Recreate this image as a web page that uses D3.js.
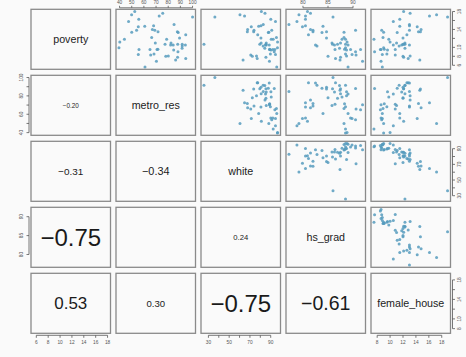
<!DOCTYPE html>
<html><head><meta charset="utf-8">
<script src="https://cdn.jsdelivr.net/npm/d3@7"></script>
<style>body{margin:0;background:#fafafa}svg{display:block}</style>
</head><body>
<script>
const states = ["AL","AK","AZ","AR","CA","CO","CT","DE","DC","FL","GA","HI","ID","IL","IN","IA","KS","KY","LA","ME","MD","MA","MI","MN","MS","MO","MT","NE","NV","NH","NJ","NM","NY","NC","ND","OH","OK","OR","PA","RI","SC","SD","TN","TX","UT","VT","VA","WA","WV","WI","WY"];
const poverty = [14.6,8.3,13.3,18.0,12.8,9.4,7.8,8.1,16.8,12.1,13.5,10.7,12.2,10.7,9.5,8.4,9.6,16.3,17.0,11.2,7.2,9.8,11.0,6.9,17.3,11.0,13.8,9.5,10.3,5.6,7.5,17.6,13.5,13.8,11.8,10.7,14.7,11.8,10.5,10.5,14.0,13.4,14.8,15.1,9.0,9.9,8.0,10.5,15.8,8.5,9.5];
const metro_res = [55.4,65.6,88.2,52.5,94.4,84.5,87.7,80.1,100.0,89.3,71.6,91.5,66.4,87.8,70.8,55.4,71.5,55.8,72.6,40.2,86.1,91.4,82.3,70.3,49.9,69.4,54.0,56.0,91.5,60.9,94.4,75.5,87.5,69.0,44.0,77.4,60.7,78.7,84.1,94.1,67.0,50.0,68.0,84.8,88.0,39.5,78.0,82.0,47.4,68.3,65.0];
const white = [71.3,70.8,87.7,81.0,77.5,90.2,85.4,76.3,36.2,80.6,67.5,25.7,95.5,79.5,88.9,94.6,89.0,90.1,64.8,96.6,63.4,84.3,80.8,88.8,60.4,85.7,91.0,92.1,82.7,95.8,77.0,84.5,73.6,73.9,92.4,85.4,78.4,90.5,85.7,88.6,67.8,88.2,80.6,82.8,93.4,96.5,72.3,85.0,94.6,89.7,94.0];
const hs_grad = [79.9,90.6,83.8,80.9,81.1,88.7,87.5,88.7,86.0,84.7,82.0,88.5,88.2,85.9,86.4,89.8,88.3,80.5,80.5,88.8,87.4,87.3,87.5,91.9,79.2,85.8,90.5,89.5,82.8,89.0,86.5,81.5,84.7,82.0,88.5,86.9,84.0,87.8,86.3,82.5,81.5,88.2,80.5,77.2,90.5,88.5,85.0,89.0,78.8,88.5,91.5];
const female_house = [14.2,10.8,11.1,12.1,12.6,9.6,12.1,13.1,18.9,12.0,14.4,12.3,8.9,12.1,10.8,8.8,9.1,11.5,16.1,10.0,14.6,12.3,12.3,8.6,17.2,11.0,8.7,8.6,11.4,8.8,12.8,13.1,14.7,13.0,7.5,12.0,11.5,9.8,11.8,13.0,14.8,9.0,13.0,13.0,7.6,9.0,12.0,10.5,10.5,9.5,8.5];

const varNames = ["poverty","metro_res","white","hs_grad","female_house"];
const povertyTicks = [6,8,10,12,14,16,18];
const metroTicks = [40,50,60,70,80,90,100];
const whiteTicks = [30,40,50,60,70,80,90];
const hsTicks = [80,85,90];
const femaleTicks = [8,10,12,14,16,18];
// labels actually printed on the horizontal / vertical axes
const povertyLabelsH = [6,8,10,12,14,16,18], povertyLabelsV = [6,8,10,14,18];
const metroLabelsH = [40,50,60,70,80,90,100], metroLabelsV = [40,60,80,100];
const whiteLabelsH = [30,50,70,90], whiteLabelsV = [30,50,70,90];
const hsLabelsH = [80,85,90], hsLabelsV = [80,85,90];
const femaleLabelsH = [8,10,12,14,16,18], femaleLabelsV = [8,10,14,18];

// correlations shown in the lower panels (row, col, value)
const corrRow = [1,2,2,3,3,3,4,4,4,4];
const corrCol = [0,0,1,0,1,2,0,1,2,3];
const corrVal = [-0.20,-0.31,-0.34,-0.75,0.02,0.24,0.53,0.30,-0.75,-0.61];

const series = [poverty, metro_res, white, hs_grad, female_house];
const ticks = [povertyTicks, metroTicks, whiteTicks, hsTicks, femaleTicks];
const labelsH = [povertyLabelsH, metroLabelsH, whiteLabelsH, hsLabelsH, femaleLabelsH];
const labelsV = [povertyLabelsV, metroLabelsV, whiteLabelsV, hsLabelsV, femaleLabelsV];

const W = 466, H = 357;
const left0 = 31, top0 = 9.3, pw = 79.5, ph = 60, sx = 85, sy = 66;
const font = "'Liberation Sans', Arial, Helvetica, sans-serif";

const svg = d3.select("body").append("svg").attr("width", W).attr("height", H)
  .style("font-family", font);

const n = varNames.length;
function paddedDomain(arr){ const [a,b] = d3.extent(arr); const p = (b-a)*0.04; return [a-p, b+p]; }
const xScales = series.map(s => d3.scaleLinear().domain(paddedDomain(s)).range([0, pw]));
const yScales = series.map(s => d3.scaleLinear().domain(paddedDomain(s)).range([ph, 0]));

const fmt = d3.format(".2f");
function corrText(v){ const t = fmt(Math.abs(v)); return (v < 0 ? "\u2212" : "") + t; }

for (let i = 0; i < n; i++) {
  for (let j = 0; j < n; j++) {
    const g = svg.append("g").attr("transform", `translate(${left0 + sx*j},${top0 + sy*i})`);
    if (i < j) {
      const data = d3.range(states.length).map(k => [series[j][k], series[i][k]]);
      g.selectAll("circle").data(data).join("circle")
        .attr("cx", d => xScales[j](d[0]))
        .attr("cy", d => yScales[i](d[1]))
        .attr("r", 1.5)
        .attr("fill", "#569BBD")
        .attr("fill-opacity", 0.85);
    } else if (i === j) {
      g.append("text").attr("x", pw/2).attr("y", ph/2).attr("dy", "0.35em")
        .attr("text-anchor", "middle").attr("font-size", 10.7).attr("fill", "#222")
        .text(varNames[i]);
    } else {
      const idx = corrRow.findIndex((r, q) => r === i && corrCol[q] === j);
      const v = corrVal[idx];
      g.append("text").attr("x", pw/2).attr("y", ph/2).attr("dy", "0.36em")
        .attr("text-anchor", "middle").attr("font-size", 32*Math.abs(v)).attr("fill", "#1a1a1a")
        .text(corrText(v));
    }
    g.append("rect").attr("x", 0).attr("y", 0).attr("width", pw).attr("height", ph)
      .attr("fill", "none").attr("stroke", "#8a8a8a").attr("stroke-width", 1.3);
  }
}

// axes
const axColor = "#555", tfs = 4.8;
function drawAxis(side, k, tx, ty) {
  const horiz = (side === "top" || side === "bottom");
  const sc = horiz ? xScales[k] : yScales[k];
  const tv = ticks[k];
  const lab = horiz ? labelsH[k] : labelsV[k];
  const g = svg.append("g").attr("transform", `translate(${tx},${ty})`)
    .attr("stroke", axColor).attr("fill", axColor);
  const a0 = sc(tv[0]), a1 = sc(tv[tv.length-1]);
  if (horiz) {
    const top = side === "top";
    const dir = top ? -1 : 1;
    const tl = top ? 2 : 2.5, lo = top ? 5 : 7;
    g.append("line").attr("x1", a0).attr("x2", a1).attr("y1", 0).attr("y2", 0).attr("stroke-width", 0.8);
    g.selectAll("line.t").data(tv).join("line").attr("class","t")
      .attr("x1", d => sc(d)).attr("x2", d => sc(d)).attr("y1", 0).attr("y2", dir*tl).attr("stroke-width", 0.8);
    g.selectAll("text").data(lab).join("text")
      .attr("x", d => sc(d)).attr("y", dir*lo).attr("dy", "0.35em")
      .attr("text-anchor", "middle").attr("font-size", tfs).attr("stroke", "none")
      .text(d => d);
  } else {
    const dir = side === "left" ? -1 : 1;
    g.append("line").attr("y1", a0).attr("y2", a1).attr("x1", 0).attr("x2", 0).attr("stroke-width", 0.8);
    g.selectAll("line.t").data(tv).join("line").attr("class","t")
      .attr("y1", d => sc(d)).attr("y2", d => sc(d)).attr("x1", 0).attr("x2", dir*2.5).attr("stroke-width", 0.8);
    g.selectAll("text").data(lab).join("text")
      .attr("transform", d => `translate(${dir*(side==="left"?8:6.5)},${sc(d)}) rotate(-90)`)
      .attr("dy", "0.35em").attr("text-anchor", "middle").attr("font-size", tfs).attr("stroke", "none")
      .text(d => d);
  }
}
for (let k = 0; k < n; k++) {
  const colX = left0 + sx*k, rowY = top0 + sy*k;
  if (k % 2 === 0) {
    drawAxis("bottom", k, colX, top0 + sy*(n-1) + ph + 2);
    drawAxis("right", k, left0 + sx*(n-1) + pw + 2, rowY);
  } else {
    drawAxis("top", k, colX, top0 - 1.5);
    drawAxis("left", k, left0 - 2, rowY);
  }
}
</script>
</body></html>
